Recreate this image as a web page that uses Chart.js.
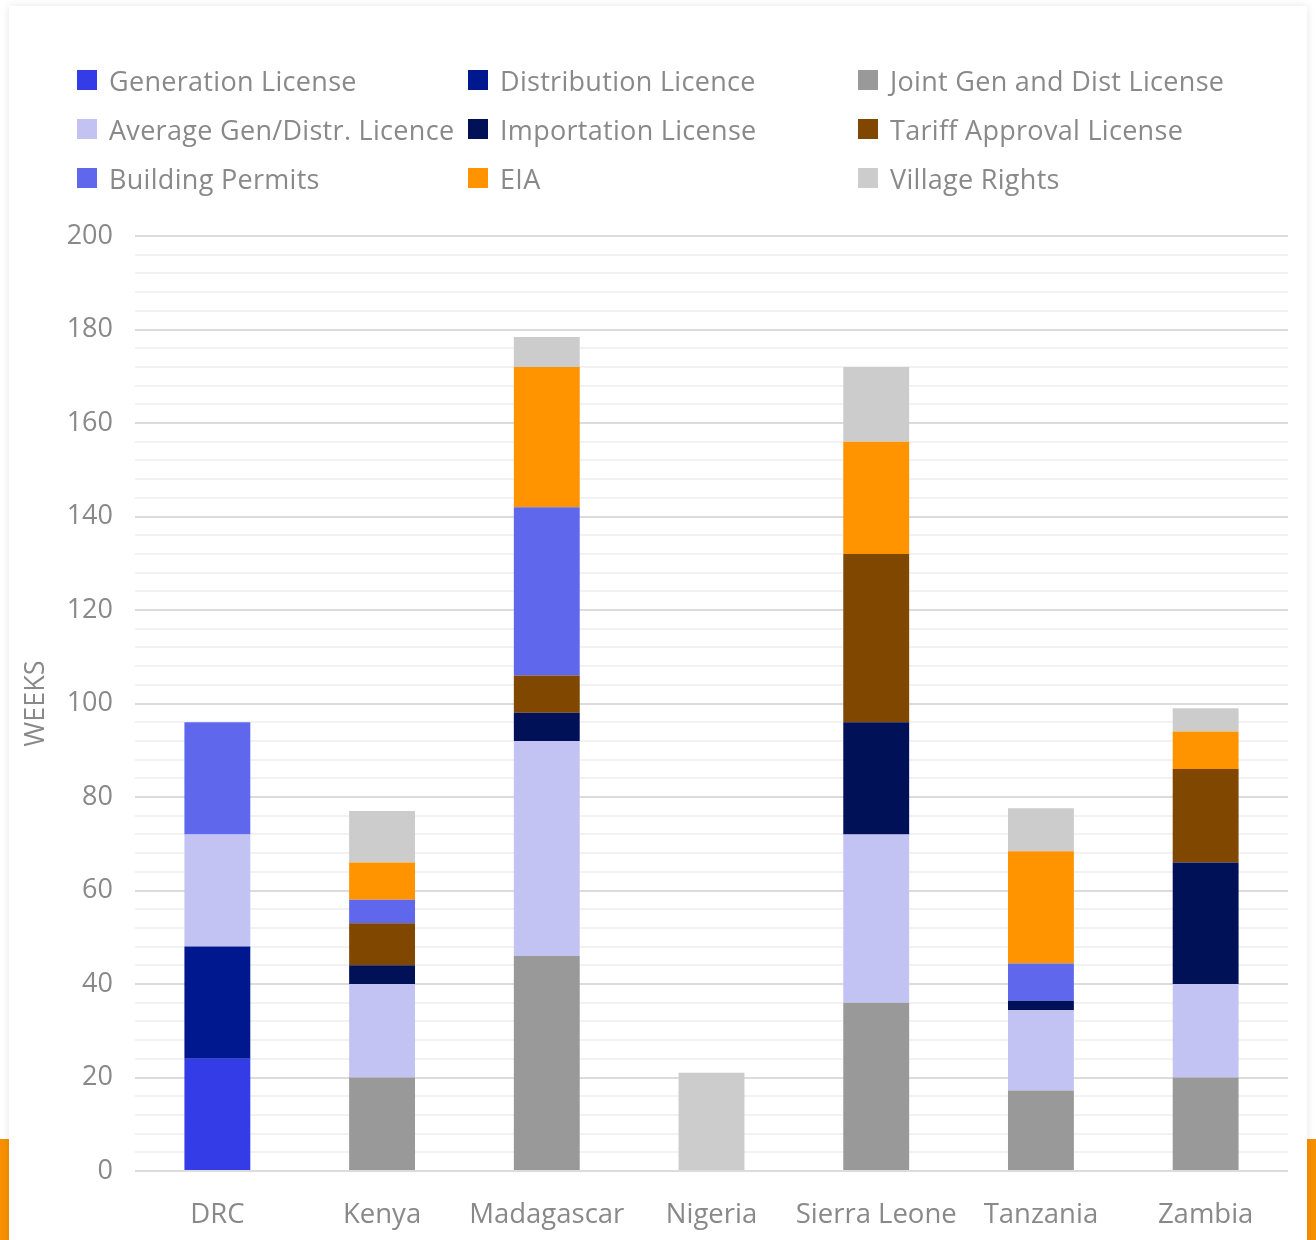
<!DOCTYPE html>
<html>
<head>
<meta charset="utf-8">
<script src="https://cdn.jsdelivr.net/npm/chart.js@4/dist/chart.umd.min.js"></script>
<style>
  html, body { margin: 0; padding: 0; background: #ffffff; }
  body { width: 1316px; height: 1240px; position: relative; overflow: hidden; font-family: "Open Sans", sans-serif; }
  .strip { position: absolute; top: 1139px; width: 9px; height: 101px; background: #f79000; }
  #card { position: absolute; left: 9px; top: 6px; width: 1298px; height: 1260px; background: #fff;
          box-shadow: 0 0 8px rgba(0,0,0,0.10); }
  #wrap { position: absolute; left: 0; top: 0; width: 1316px; height: 1240px; }
  #legend { position: absolute; left: 0; top: 0; width: 1316px; height: 220px; }
  .item { position: absolute; display: flex; align-items: center; height: 30px; color: #898989; font-size: 27px; letter-spacing: 0.3px; white-space: nowrap; }
  .box { width: 20px; height: 20px; margin-right: 12px; flex: none; }
</style>
</head>
<body>
<div class="strip" style="left:0"></div>
<div class="strip" style="left:1307px"></div>
<div id="card"></div>
<div id="wrap"><canvas id="c" width="1316" height="1240"></canvas></div>
<div id="legend"></div>
<script>
const categories = ["DRC", "Kenya", "Madagascar", "Nigeria", "Sierra Leone", "Tanzania", "Zambia"];
const seriesNames = ["Generation License", "Distribution Licence", "Joint Gen and Dist License",
  "Average Gen/Distr. Licence", "Importation License", "Tariff Approval License",
  "Building Permits", "EIA", "Village Rights"];
const generation   = [24, 0, 0, 0, 0, 0, 0];
const distribution = [24, 0, 0, 0, 0, 0, 0];
const jointGenDist = [0, 20, 46, 0, 36, 17.2, 20];
const avgGenDistr  = [24, 20, 46, 0, 36, 17.2, 20];
const importation  = [0, 4, 6, 0, 24, 2, 26];
const tariff       = [0, 9, 8, 0, 36, 0, 20];
const building     = [24, 5, 36, 0, 0, 8, 0];
const eia          = [0, 8, 30, 0, 24, 24, 8];
const village      = [0, 11, 6.4, 21, 16, 9.2, 5];
const yTicks = [0, 20, 40, 60, 80, 100, 120, 140, 160, 180, 200];
const colors = ["#343CE8", "#00188F", "#989998", "#C3C3F3", "#011158", "#7F4700", "#5F67EC", "#FF9300", "#CCCCCC"];
const seriesValues = [generation, distribution, jointGenDist, avgGenDistr, importation, tariff, building, eia, village];

const datasets = seriesNames.map((n, i) => ({
  label: n, data: seriesValues[i], backgroundColor: colors[i], borderWidth: 0,
  barPercentage: 0.4, categoryPercentage: 1.0
}));

const grey = "#898989";
const chart = new Chart(document.getElementById("c"), {
  type: "bar",
  data: { labels: categories, datasets },
  options: {
    responsive: false, animation: false,
    layout: { padding: { top: 236, left: 20, right: 28, bottom: 7 } },
    plugins: { legend: { display: false }, tooltip: { enabled: false } },
    scales: {
      x: {
        stacked: true,
        grid: { display: false }, border: { display: false },
        ticks: { color: grey, font: { family: "Open Sans", size: 27.5 }, padding: 20,
                 maxRotation: 0, minRotation: 0, autoSkip: false },
        afterFit: s => { s.height = 62; }
      },
      y: {
        stacked: true, min: 0, max: 200,
        border: { display: false },
        grid: {
          color: ctx => (ctx.tick && ctx.tick.value % 20 === 0) ? "#dcdcdc" : "#f2f2f2",
          lineWidth: 2,
          drawTicks: false
        },
        ticks: {
          stepSize: 4, autoSkip: false, padding: 22, color: grey,
          font: { family: "Open Sans", size: 27 },
          callback: v => yTicks.includes(v) ? String(v) : ""
        },
        title: { display: true, text: "WEEKS", color: grey, font: { family: "Open Sans", size: 27 }, padding: 0 },
        afterFit: s => { s.width = 115; }
      }
    }
  }
});

// HTML legend built from the chart's datasets (3 columns, row-major)
const legend = document.getElementById("legend");
const colX = [77, 468, 858], rowY = [80, 129, 178];
chart.data.datasets.forEach((d, i) => {
  const el = document.createElement("div");
  el.className = "item";
  el.style.left = colX[i % 3] + "px";
  el.style.top = (rowY[Math.floor(i / 3)] - 15) + "px";
  el.innerHTML = '<span class="box" style="background:' + d.backgroundColor + '"></span><span></span>';
  el.lastChild.textContent = d.label;
  legend.appendChild(el);
});
</script>
</body>
</html>
